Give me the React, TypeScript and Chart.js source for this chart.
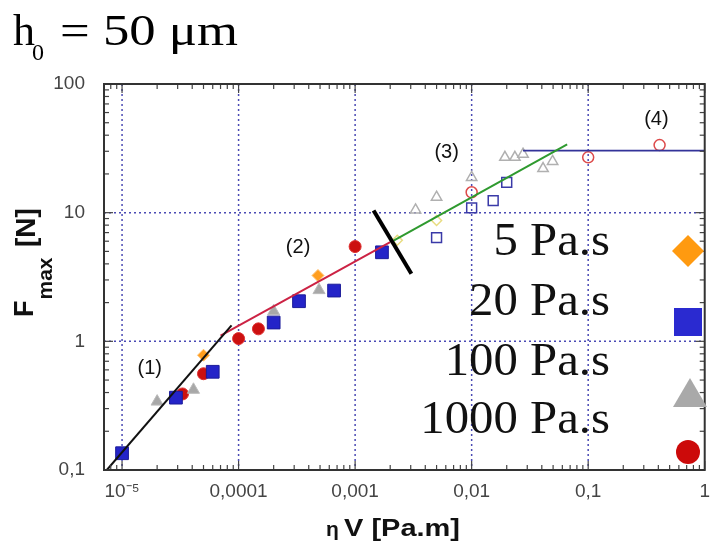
import React, { useEffect, useRef } from 'react';
import { Chart, registerables } from 'chart.js';
Chart.register(...registerables);

// Axis ticks
const xTickValues = [1e-5, 1e-4, 1e-3, 1e-2, 1e-1, 1];
const xTickLabels = ['10⁻⁵', '0,0001', '0,001', '0,01', '0,1', '1'];
const yTickValues = [0.1, 1, 10, 100];
const yTickLabels = ['0,1', '1', '10', '100'];

// 5 Pa.s
const eta5X = [5.0e-5, 4.8e-4];
const eta5Y = [0.78, 3.25];
const eta5OpenX = [2.3e-3, 5.0e-3];
const eta5OpenY = [6.1, 8.7];
// 20 Pa.s
const eta20X = [1.0e-5, 2.9e-5, 6.0e-5, 2.0e-4, 3.3e-4, 6.6e-4, 1.7e-3];
const eta20Y = [0.135, 0.365, 0.58, 1.4, 2.05, 2.48, 4.92];
const eta20OpenX = [5.0e-3, 0.01, 0.0153, 0.02];
const eta20OpenY = [6.4, 10.9, 12.4, 17.2];
// 100 Pa.s
const eta100X = [2.0e-5, 4.1e-5, 2.0e-4, 4.9e-4];
const eta100Y = [0.34, 0.42, 1.71, 2.5];
const eta100OpenX = [3.3e-3, 5.0e-3, 0.01, 0.0193, 0.0235, 0.0276, 0.041, 0.0495];
const eta100OpenY = [10.5, 13.2, 18.8, 26.9, 26.9, 28.5, 22, 25];
// 1000 Pa.s
const eta1000X = [3.3e-5, 5.0e-5, 1.0e-4, 1.48e-4, 1.0e-3];
const eta1000Y = [0.39, 0.56, 1.05, 1.25, 5.45];
const eta1000OpenX = [0.01, 0.1, 0.41];
const eta1000OpenY = [14.4, 26.9, 33.5];

// Regime fits
const fit1X = [7.4e-6, 8.7e-5];
const fit1Y = [0.1, 1.33];
const fit2X = [7.0e-5, 2.0e-3];
const fit2Y = [1.11, 5.9];
const fit3X = [2.14e-3, 0.066];
const fit3Y = [6.07, 34];
const fit4X = [0.0276, 1];
const fit4Y = [30.3, 30.3];
const boundX = [1.44e-3, 3.04e-3];
const boundY = [10.4, 3.35];

// Regime labels
const regionLabels = ['(1)', '(2)', '(3)', '(4)'];
const regionX = [1.73e-5, 3.24e-4, 6.1e-3, 0.385];
const regionY = [0.618, 5.36, 29.2, 52.6];

const legendLabels = ['5 Pa.s', '20 Pa.s', '100 Pa.s', '1000 Pa.s'];

const pts = (xs: number[], ys: number[]) => xs.map((x, i) => ({ x, y: ys[i] }));

const lineDs = (xs: number[], ys: number[], color: string, width: number) => ({
  data: pts(xs, ys),
  showLine: true,
  borderColor: color,
  borderWidth: width,
  pointRadius: 0,
  pointHoverRadius: 0,
  fill: false,
});

const decoPlugin = {
  id: 'deco',
  beforeDatasetsDraw(chart: any) {
    const { ctx, chartArea: a, scales } = chart;
    const xs = scales.x, ys = scales.y;
    ctx.save();
    ctx.strokeStyle = '#4a4ab4';
    ctx.lineWidth = 1.5;
    ctx.setLineDash([2, 3]);
    for (const v of xTickValues) {
      const px = xs.getPixelForValue(v);
      if (px <= a.left + 1 || px >= a.right - 1) continue;
      ctx.beginPath();
      ctx.moveTo(px, a.top);
      ctx.lineTo(px, a.bottom);
      ctx.stroke();
    }
    for (const v of yTickValues) {
      const py = ys.getPixelForValue(v);
      if (py <= a.top + 1 || py >= a.bottom - 1) continue;
      ctx.beginPath();
      ctx.moveTo(a.left, py);
      ctx.lineTo(a.right, py);
      ctx.stroke();
    }
    ctx.restore();
  },
  afterDatasetsDraw(chart: any) {
    const { ctx, chartArea: a, scales } = chart;
    const xs = scales.x, ys = scales.y;
    ctx.save();
    // minor / major ticks inside the frame
    ctx.strokeStyle = '#444';
    ctx.lineWidth = 1.2;
    const seg = (x1: number, y1: number, x2: number, y2: number) => {
      ctx.beginPath();
      ctx.moveTo(x1, y1);
      ctx.lineTo(x2, y2);
      ctx.stroke();
    };
    for (let d = -6; d <= 0; d++) {
      for (let m = 1; m <= 9; m++) {
        const v = m * Math.pow(10, d);
        const px = xs.getPixelForValue(v);
        if (px < a.left - 0.5 || px > a.right + 0.5) continue;
        const len = m === 1 ? 9 : 5;
        seg(px, a.bottom, px, a.bottom - len);
        seg(px, a.top, px, a.top + len);
      }
    }
    for (let d = -1; d <= 2; d++) {
      for (let m = 1; m <= 9; m++) {
        const v = m * Math.pow(10, d);
        const py = ys.getPixelForValue(v);
        if (py < a.top - 0.5 || py > a.bottom + 0.5) continue;
        const len = m === 1 ? 9 : 5;
        seg(a.left, py, a.left + len, py);
        seg(a.right, py, a.right - len, py);
      }
    }
    ctx.lineWidth = 2;
    ctx.strokeStyle = '#333';
    ctx.strokeRect(a.left, a.top, a.right - a.left, a.bottom - a.top);

    // regime labels
    ctx.fillStyle = '#111';
    ctx.font = '20px "Liberation Sans", Arial, sans-serif';
    ctx.textAlign = 'center';
    ctx.textBaseline = 'middle';
    regionLabels.forEach((t, i) => {
      ctx.fillText(t, xs.getPixelForValue(regionX[i]), ys.getPixelForValue(regionY[i]));
    });

    // legend
    ctx.textBaseline = 'alphabetic';
    ctx.font = '46px "Liberation Serif", "Times New Roman", serif';
    const baselines = [255, 315, 375, 433];
    legendLabels.forEach((t, i) => {
      ctx.save();
      ctx.translate(610, baselines[i]);
      ctx.scale(1.06, 1);
      ctx.textAlign = 'right';
      ctx.fillStyle = '#111';
      ctx.fillText(t, 0, 0);
      ctx.restore();
    });
    // legend markers
    ctx.fillStyle = '#ff9a10';
    ctx.beginPath();
    ctx.moveTo(688, 235);
    ctx.lineTo(704, 251);
    ctx.lineTo(688, 267);
    ctx.lineTo(672, 251);
    ctx.closePath();
    ctx.fill();
    ctx.fillStyle = '#2a2ad0';
    ctx.fillRect(674, 308, 28, 28);
    ctx.fillStyle = '#a9a9a9';
    ctx.beginPath();
    ctx.moveTo(690, 378);
    ctx.lineTo(707, 407);
    ctx.lineTo(673, 407);
    ctx.closePath();
    ctx.fill();
    ctx.fillStyle = '#cc0a0a';
    ctx.beginPath();
    ctx.arc(688, 452, 12, 0, Math.PI * 2);
    ctx.fill();
    ctx.restore();
  },
  afterDraw(chart: any) {
    const { ctx } = chart;
    ctx.save();
    ctx.fillStyle = '#000';
    ctx.textAlign = 'left';
    ctx.textBaseline = 'alphabetic';
    // title h0 = 50 µm
    ctx.font = '44px "Liberation Serif", "Times New Roman", serif';
    ctx.fillText('h', 13, 45);
    ctx.font = '24px "Liberation Serif", "Times New Roman", serif';
    ctx.fillText('0', 32, 60);
    ctx.font = '44px "Liberation Serif", "Times New Roman", serif';
    const tt = '= 50 μm';
    const tw = ctx.measureText(tt).width;
    ctx.save();
    ctx.translate(60, 45);
    ctx.scale(178 / tw, 1);
    ctx.fillText(tt, 0, 0);
    ctx.restore();

    // x axis title
    ctx.fillStyle = '#111';
    ctx.font = 'bold 21px "Liberation Sans", Arial, sans-serif';
    ctx.fillText('η', 326, 536);
    ctx.font = 'bold 24px "Liberation Sans", Arial, sans-serif';
    const xt = 'V [Pa.m]';
    const xw = ctx.measureText(xt).width;
    ctx.save();
    ctx.translate(344, 536);
    ctx.scale(116 / xw, 1);
    ctx.fillText(xt, 0, 0);
    ctx.restore();

    // y axis title
    ctx.save();
    ctx.translate(33, 317);
    ctx.rotate(-Math.PI / 2);
    ctx.font = 'bold 27px "Liberation Sans", Arial, sans-serif';
    ctx.fillText('F', 0, 0);
    const fw = ctx.measureText('F').width;
    ctx.font = 'bold 21px "Liberation Sans", Arial, sans-serif';
    ctx.fillText('max', fw + 1, 19);
    ctx.font = 'bold 28px "Liberation Sans", Arial, sans-serif';
    ctx.fillText('[N]', 70, 2);
    ctx.restore();
    ctx.restore();
  },
};

export default function App() {
  const ref = useRef<HTMLCanvasElement>(null);
  useEffect(() => {
    document.body.style.margin = '0';
    const chart = new Chart(ref.current as HTMLCanvasElement, {
      type: 'scatter',
      data: {
        datasets: [
          lineDs(boundX, boundY, '#000000', 4),
          lineDs(fit1X, fit1Y, '#111111', 2),
          lineDs(fit2X, fit2Y, '#cc2244', 2),
          lineDs(fit3X, fit3Y, '#2f9a2f', 2),
          lineDs(fit4X, fit4Y, '#333399', 1.8),
          {
            data: pts(eta5X, eta5Y),
            pointStyle: 'rectRot',
            pointRadius: 6,
            backgroundColor: '#ff9e1f',
            borderColor: '#ffc070',
            borderWidth: 1,
          },
          {
            data: pts(eta5OpenX, eta5OpenY),
            pointStyle: 'rectRot',
            pointRadius: 5,
            backgroundColor: 'rgba(255,255,255,0)',
            borderColor: '#e8dc80',
            borderWidth: 1.5,
          },
          {
            data: pts(eta20X, eta20Y),
            pointStyle: 'rect',
            pointRadius: 9,
            backgroundColor: '#2424c8',
            borderColor: '#1c1c9a',
            borderWidth: 1,
          },
          {
            data: pts(eta20OpenX, eta20OpenY),
            pointStyle: 'rect',
            pointRadius: 7,
            backgroundColor: 'rgba(255,255,255,0)',
            borderColor: '#3a3aa8',
            borderWidth: 1.5,
          },
          {
            data: pts(eta100X, eta100Y),
            pointStyle: 'triangle',
            pointRadius: 7,
            backgroundColor: '#a8a8a8',
            borderColor: '#bbbbbb',
            borderWidth: 1,
          },
          {
            data: pts(eta100OpenX, eta100OpenY),
            pointStyle: 'triangle',
            pointRadius: 6,
            backgroundColor: 'rgba(255,255,255,0)',
            borderColor: '#b0b0b0',
            borderWidth: 1.5,
          },
          {
            data: pts(eta1000X, eta1000Y),
            pointStyle: 'circle',
            pointRadius: 6,
            backgroundColor: '#cc1010',
            borderColor: '#dd3030',
            borderWidth: 1,
          },
          {
            data: pts(eta1000OpenX, eta1000OpenY),
            pointStyle: 'circle',
            pointRadius: 5.5,
            backgroundColor: 'rgba(255,255,255,0)',
            borderColor: '#dd4a4a',
            borderWidth: 1.5,
          },
        ] as any,
      },
      options: {
        animation: false,
        responsive: false,
        events: [],
        layout: { padding: { top: 84, left: 0, right: 8, bottom: 0 } },
        plugins: { legend: { display: false }, tooltip: { enabled: false }, title: { display: false } },
        scales: {
          x: {
            type: 'logarithmic',
            min: 7e-6,
            max: 1,
            afterBuildTicks: (s: any) => {
              s.ticks = xTickValues.map((v) => ({ value: v }));
            },
            afterFit: (s: any) => {
              s.height = 76;
            },
            ticks: {
              autoSkip: false,
              maxRotation: 0,
              minRotation: 0,
              padding: 10,
              color: '#444',
              font: { family: '"Liberation Sans", Arial, sans-serif', size: 19 },
              callback: (_v: any, i: number) => xTickLabels[i],
            },
            grid: { display: false, drawTicks: false },
            border: { display: false },
          },
          y: {
            type: 'logarithmic',
            min: 0.1,
            max: 100,
            afterBuildTicks: (s: any) => {
              s.ticks = yTickValues.map((v) => ({ value: v }));
            },
            afterFit: (s: any) => {
              s.width = 104;
            },
            ticks: {
              autoSkip: false,
              padding: 19,
              color: '#444',
              font: { family: '"Liberation Sans", Arial, sans-serif', size: 19 },
              callback: (_v: any, i: number) => yTickLabels[i],
            },
            grid: { display: false, drawTicks: false },
            border: { display: false },
          },
        },
      } as any,
      plugins: [decoPlugin],
    });
    return () => chart.destroy();
  }, []);
  return (
    <div style={{ width: 720, height: 546 }}>
      <canvas ref={ref} width={720} height={546} style={{ display: 'block' }} />
    </div>
  );
}
